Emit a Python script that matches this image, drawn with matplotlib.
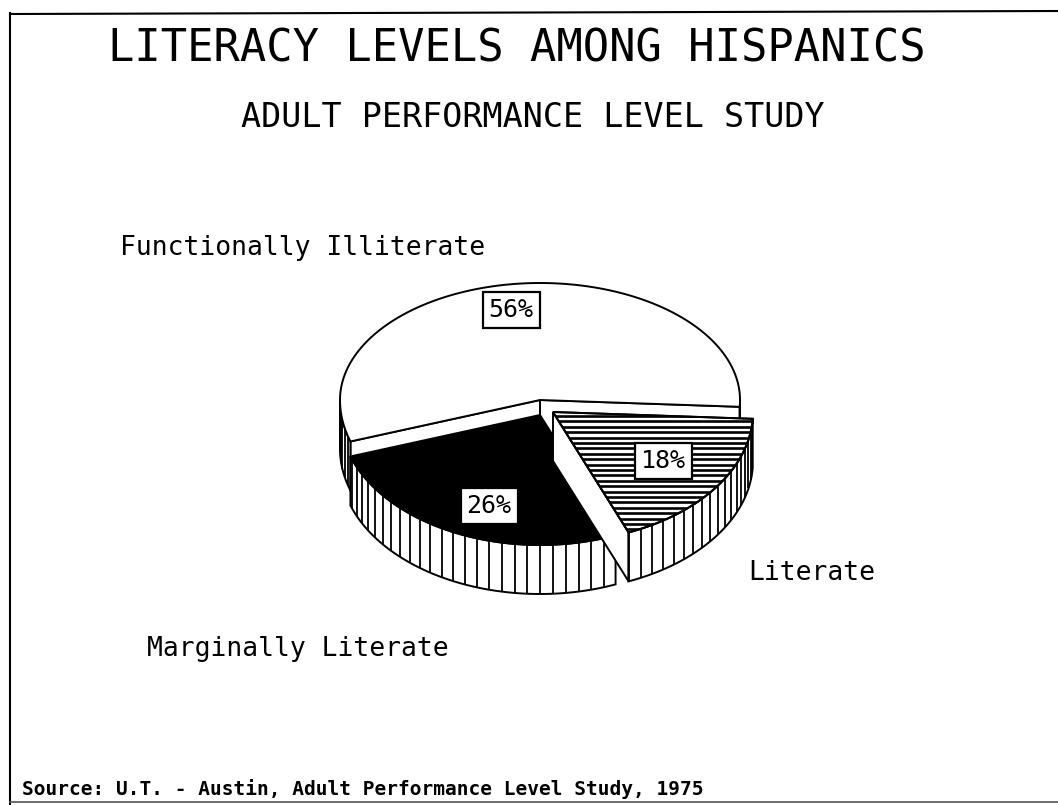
import numpy as np
import matplotlib
matplotlib.use('Agg')
import matplotlib.pyplot as plt
from matplotlib.patches import Polygon

# ---- data ----
categories = ['Functionally Illiterate', 'Marginally Literate', 'Literate']
values = [56, 26, 18]
pct_labels = ['56%', '26%', '18%']
title = 'LITERACY LEVELS AMONG HISPANICS'
subtitle = 'ADULT PERFORMANCE LEVEL STUDY'
source = 'Source: U.T. - Austin, Adult Performance Level Study, 1975'

# pixel offsets of the pulled-out slices (style)
offsets = [(0, 0), (0, 15), (13, 12)]
top_styles = ['white', 'black', 'hlines']

W, H = 1058, 805
fig = plt.figure(figsize=(W / 100, H / 100), dpi=100)
ax = fig.add_axes([0, 0, 1, 1])
ax.set_xlim(0, W)
ax.set_ylim(H, 0)
ax.axis('off')

FONT = 'DejaVu Sans Mono'
LW = 1.4

cx, cy = 540, 400
a = 200
b_up, b_lo = 117, 130   # slight perspective: front half drawn larger
depth = 49
start = -3.0


def pt(t, ox=0.0, oy=0.0, z=0.0):
    tr = np.radians(t)
    s = np.sin(tr)
    bb = b_up if s > 0 else b_lo
    return (cx + ox + a * np.cos(tr), cy + oy - bb * s + z)


def arc(t1, t2, ox, oy, z=0.0):
    n = max(int(abs(t2 - t1)) + 2, 3)
    return [pt(t, ox, oy, z) for t in np.linspace(t1, t2, n)]


total = float(sum(values))
angles = []
t = start
for v in values:
    span = 360.0 * v / total
    angles.append((t, t + span))
    t += span

for i, (t1, t2) in enumerate(angles):
    ox, oy = offsets[i]
    c_top = (cx + ox, cy + oy)
    c_bot = (cx + ox, cy + oy + depth)
    zb = 2 + i * 3

    # radial walls that face the viewer
    for tw, nrm in ((t1, t1 - 90), (t2, t2 + 90)):
        if np.sin(np.radians(nrm)) < -1e-6:
            p_top = pt(tw, ox, oy)
            p_bot = pt(tw, ox, oy, depth)
            ax.add_patch(Polygon([c_top, p_top, p_bot, c_bot], closed=True,
                                 fc='white', ec='black', lw=LW, zorder=zb))

    # visible part of the outer curved side (front half)
    ranges = []
    for lo, hi in ((180, 360), (-180, 0), (540, 720)):
        s, e = max(t1, lo), min(t2, hi)
        if e > s:
            ranges.append((s, e))
    for s, e in ranges:
        top = arc(s, e, ox, oy)
        bot = arc(e, s, ox, oy, depth)
        ax.add_patch(Polygon(top + bot, closed=True, fc='white', ec='black',
                             lw=LW, zorder=zb))
        step = 3.7
        for k in range(int(np.ceil(s / step)), int(np.floor(e / step)) + 1):
            tt = k * step
            p1 = pt(tt, ox, oy)
            p2 = pt(tt, ox, oy, depth)
            ax.plot([p1[0], p2[0]], [p1[1], p2[1]], color='black', lw=1.3,
                    zorder=zb, solid_capstyle='butt')

    # top face
    top_pts = [c_top] + arc(t1, t2, ox, oy)
    style = top_styles[i]
    fc = 'black' if style == 'black' else 'white'
    poly = Polygon(top_pts, closed=True, fc=fc, ec='black', lw=LW, zorder=zb + 1)
    ax.add_patch(poly)
    if style == 'hlines':
        ys = [p[1] for p in top_pts]
        xs = [p[0] for p in top_pts]
        yy = min(ys) + 4
        while yy < max(ys):
            ln, = ax.plot([min(xs) - 5, max(xs) + 5], [yy, yy], color='black',
                          lw=1.9, zorder=zb + 1.5, solid_capstyle='butt')
            ln.set_clip_path(poly)
            yy += 5.4
        ax.add_patch(Polygon(top_pts, closed=True, fill=False, ec='black',
                             lw=LW, zorder=zb + 1.6))

# percentage boxes
box_pos = [(511, 310), (489, 506), (663, 461)]
for (bx, by), lab in zip(box_pos, pct_labels):
    ax.text(bx, by, lab, fontsize=18, family=FONT, ha='center', va='center',
            zorder=20,
            bbox=dict(boxstyle='square,pad=0.24', fc='white', ec='black', lw=1.6))

# titles
ax.text(517, 62, title, fontsize=31.5, family=FONT, ha='center', va='baseline')
ax.text(533, 127, subtitle, fontsize=24, family=FONT, ha='center', va='baseline')

# category labels
label_pos = [(120, 255), (147, 656), (748, 580)]
for (lx, ly), lab in zip(label_pos, categories):
    ax.text(lx, ly, lab, fontsize=19, family=FONT, ha='left', va='baseline')

ax.text(22, 795, source, fontsize=14, family=FONT, fontweight='bold',
        ha='left', va='baseline')

# frame
ax.plot([10, 10], [13, 805], color='black', lw=1.5)
ax.plot([10, W], [14, 11], color='black', lw=1.5)
ax.plot([10, W], [802, 802], color='#555555', lw=1.2)

fig.savefig('out.png', dpi=100, facecolor='white')
